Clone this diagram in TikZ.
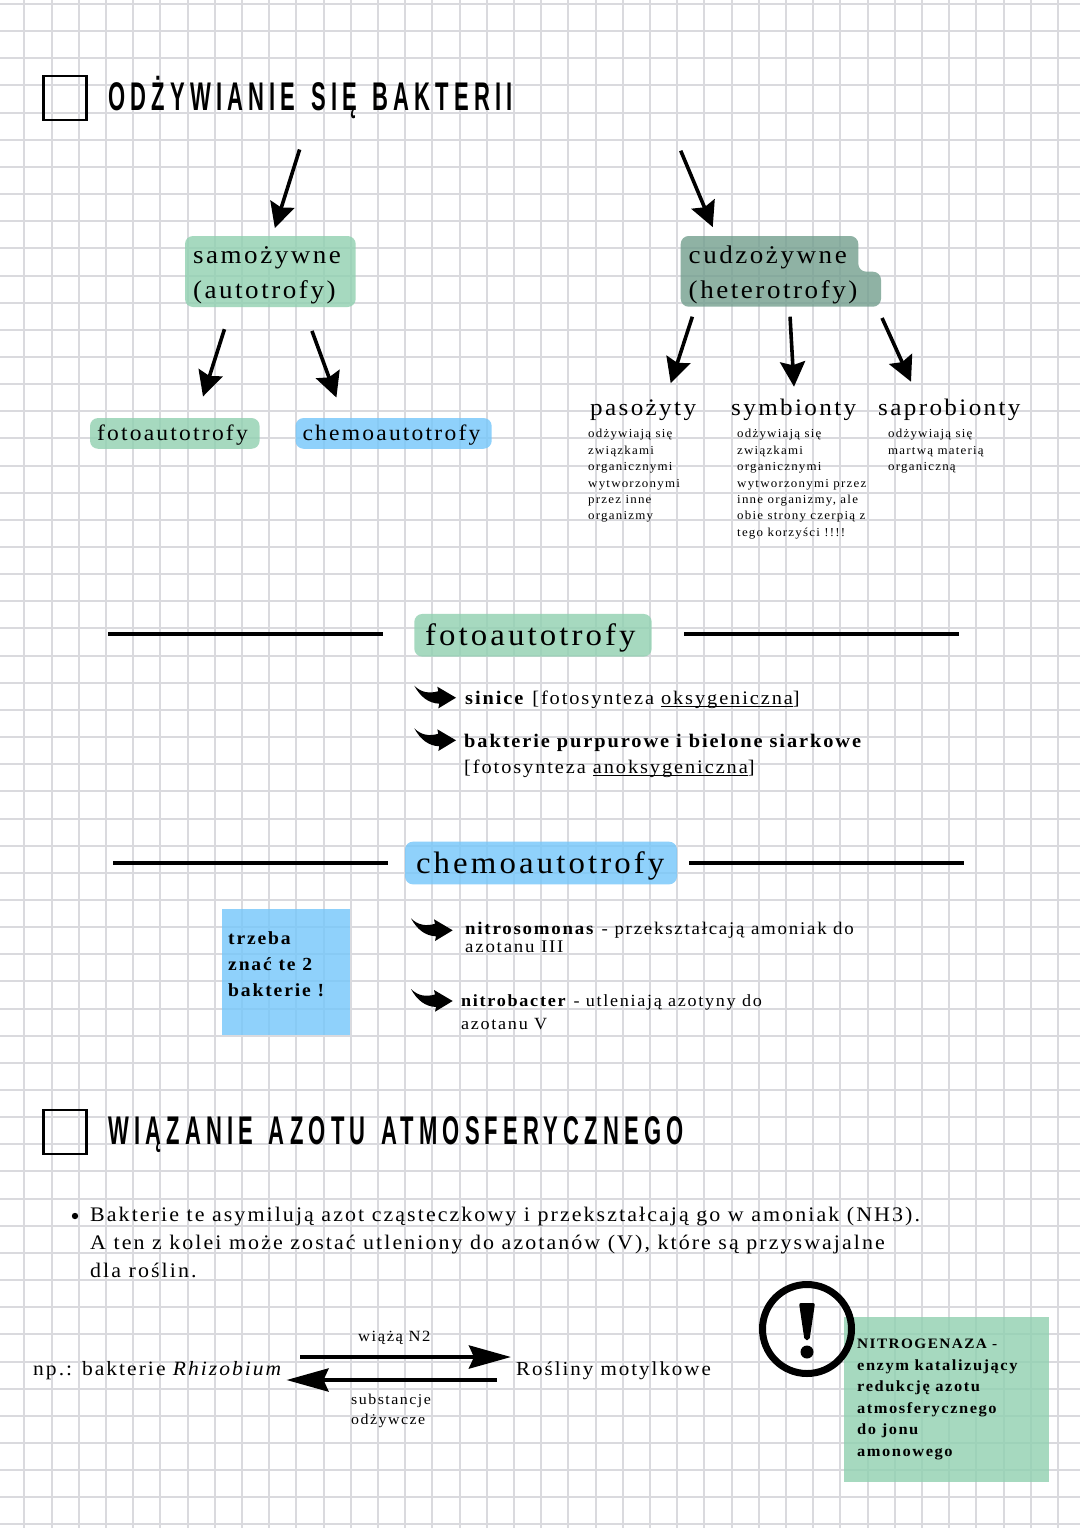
\documentclass[tikz,border=0pt]{standalone}
\usepackage{fontspec}
\usetikzlibrary{arrows.meta}
\newfontfamily\bodyfont[LetterSpace=10,FakeStretch=1.06]{Liberation Serif}
\newfontfamily\titlefont[LetterSpace=13,WordSpace=1.38,FakeStretch=0.55]{Liberation Sans}
\newcommand{\undr}[1]{\setbox0\hbox{#1}\rlap{\rule[-2.6pt]{\wd0}{0.9pt}}\box0}
\definecolor{boxgreen}{HTML}{90D0B0}
\definecolor{boxblue}{HTML}{74C6FA}
\definecolor{boxdark}{HTML}{739F8E}
\definecolor{gridgray}{HTML}{DADADE}
\tikzset{
  gridline/.style={gridgray,line width=2pt},
  rulerline/.style={line width=3.6pt},
  tickbox/.style={line width=2.4pt},
  slimarrow/.style={line width=3.6pt,-{Stealth[length=25pt,width=25pt,inset=3.5pt]}},
  widearrow/.style={line width=4.4pt,-{Stealth[length=42pt,width=23pt,inset=5pt]}},
  shade/.style={fill opacity=0.8,text opacity=1},
  pill/.style={shade,rounded corners=8pt,inner xsep=8pt,inner ysep=0pt,align=left},
  note/.style={shade,inner sep=0pt},
  label/.style={inner sep=0pt,anchor=base west},
  block/.style={inner sep=0pt,anchor=north west,align=left},
  title/.style={label,font=\titlefont\bfseries\fontsize{40}{40}\selectfont},
  medium/.style={font=\bodyfont\fontsize{25.5}{35}\selectfont,text height=18pt,text depth=35pt},
  heading/.style={label,font=\bodyfont\fontsize{23.7}{28}\selectfont},
  header/.style={font=\bodyfont\fontsize{31}{36}\selectfont,text height=21pt,text depth=0pt},
  lowpill/.style={pill,inner xsep=7pt,minimum height=30.7pt,font=\bodyfont\fontsize{22.2}{24}\selectfont,text height=14pt,text depth=0pt},
  small/.style={font=\bodyfont\fontsize{12.2}{16.45}\selectfont},
  hook/.pic={\fill (0,0) .. controls (7,7) and (15,8) .. (24,5.5) -- (23,1) -- (41.7,12) -- (24,22.7) -- (25,18) .. controls (14,17.5) and (6,11) .. (0,0) -- cycle;}
}
\begin{document}
\begin{tikzpicture}[x=1pt,y=-1pt]
\path[use as bounding box] (0,0) rectangle (1080,1528);
\fill[white] (0,0) rectangle (1080,1528);
\foreach \i in {0,...,38} \draw[gridline] ({24.3+27.2*\i},0) -- ({24.3+27.2*\i},1528);
\foreach \i in {0,...,56} \draw[gridline] (0,{4+27.15*\i}) -- (1080,{4+27.15*\i});

\draw[tickbox] (43.5,76) rectangle (86.5,120);
\node[title] (nutrition) at (108,110) {ODŻYWIANIE SIĘ BAKTERII};
\coordinate (autostart) at (299.6,149.5);
\coordinate (heterostart) at (680.7,150.7);

\node[pill,medium,fill=boxgreen,text width=154.7pt,minimum height=71pt] (auto) at (270.35,271.5) {samożywne\\(autotrofy)};
\node[lowpill,fill=boxgreen,text width=155.6pt] (foto) at (174.8,433.4) {fotoautotrofy};
\node[lowpill,fill=boxblue,text width=182.2pt] (chemo) at (393.6,433.4) {chemoautotrofy};
\draw[slimarrow] (autostart) -- ([shift={(4.5,-7.7)}]auto.north);
\draw[slimarrow] ([shift={(-45.9,22)}]auto.south) -- ([shift={(28.2,-21.3)}]foto.north);
\draw[slimarrow] ([shift={(41.6,23.7)}]auto.south) -- ([shift={(-57.2,-20.3)}]chemo.north);

\fill[boxdark,fill opacity=0.8,rounded corners=8pt] (680.7,236) -- (858.3,236) -- (858.3,271.7) -- (881,271.7) -- (881,306.7) -- (680.7,306.7) -- cycle;
\node[inner xsep=8pt,inner ysep=0pt,align=left,medium,text width=184.3pt,minimum height=71pt] (hetero) at (780.85,271.5) {cudzożywne\\(heterotrofy)};
\node[heading] (parasites) at (590,415) {pasożyty};
\node[heading] (symbionts) at (731,415) {symbionty};
\node[heading] (saprobes) at (878,415) {saprobionty};
\draw[slimarrow] (heterostart) -- ([shift={(-68.1,-8.7)}]hetero.north);
\draw[slimarrow] ([shift={(-88.5,9.5)}]hetero.south) -- ([shift={(80.7,-31.7)}]parasites.base west);
\draw[slimarrow] ([shift={(9.2,9.5)}]hetero.south) -- ([shift={(63,-28.3)}]symbionts.base west);
\draw[slimarrow] ([shift={(101.2,10.8)}]hetero.south) -- ([shift={(33,-33.3)}]saprobes.base west);
\node[block,small] (parasitetext) at (588,429) {odżywiają się\\związkami\\organicznymi\\wytworzonymi\\przez inne\\organizmy};
\node[block,small] (symbiontext) at (737,429) {odżywiają się\\związkami\\organicznymi\\wytworzonymi przez\\inne organizmy, ale\\obie strony czerpią z\\tego korzyści !!!!};
\node[block,small] (saprobetext) at (888,429) {odżywiają się\\martwą materią\\organiczną};

\draw[rulerline] (108,634) -- (383,634);
\draw[rulerline] (684,634) -- (959,634);
\node[pill,header,fill=boxgreen,inner xsep=10.7pt,text width=216pt,minimum height=42.7pt] (fotohead) at (533,635.3) {fotoautotrofy};
\pic at (414.3,685.7) {hook};
\pic at (414.3,728.3) {hook};
\node[label,font=\bodyfont\fontsize{19.2}{26}\selectfont] (cyano) at (465,704) {\textbf{sinice} [fotosynteza \undr{oksygeniczna}]};
\node[block,font=\bodyfont\fontsize{19.2}{26}\selectfont] (sulfur) at (464,733.5) {\textbf{bakterie purpurowe i bielone siarkowe}\\{}[fotosynteza \undr{anoksygeniczna}]};

\draw[rulerline] (113,863) -- (388,863);
\draw[rulerline] (689,863) -- (964,863);
\node[pill,header,fill=boxblue,inner xsep=11pt,text width=250pt,minimum height=42.7pt] (chemohead) at (541,863) {chemoautotrofy};
\node[note,fill=boxblue,minimum width=128pt,minimum height=126pt] (reminder) at (286,972) {};
\node[block,font=\bodyfont\bfseries\fontsize{18.5}{26}\selectfont] (remindertext) at (228,931) {trzeba\\znać te 2\\bakterie !};
\pic at (411,918.3) {hook};
\pic at (411,989) {hook};
\node[block,font=\bodyfont\fontsize{17.8}{17.5}\selectfont] (nitroso) at (465,922) {\textbf{nitrosomonas} - przekształcają amoniak do\\azotanu III};
\node[block,font=\bodyfont\fontsize{17.1}{23}\selectfont] (nitro) at (461,994) {\textbf{nitrobacter} - utleniają azotyny do\\azotanu V};

\draw[tickbox] (43.5,1110) rectangle (86.5,1154);
\node[title] (fixation) at (108,1144) {WIĄZANIE AZOTU ATMOSFERYCZNEGO};
\fill (75,1216) circle (3.2);
\node[block,font=\bodyfont\fontsize{20.7}{28}\selectfont] (para) at (90,1207) {Bakterie te asymilują azot cząsteczkowy i przekształcają go w amoniak (NH3).\\A ten z kolei może zostać utleniony do azotanów (V), które są przyswajalne\\dla roślin.};

\node[label,font=\bodyfont\fontsize{20.3}{24}\selectfont] (rhizo) at (33,1375) {np.: bakterie \textit{Rhizobium}};
\node[label,font=\bodyfont\fontsize{19.8}{24}\selectfont] (legumes) at (516,1375) {Rośliny motylkowe};
\draw[widearrow] ([shift={(17,-18)}]rhizo.base east) -- ([shift={(-5,-18)}]legumes.base west);
\draw[widearrow] ([shift={(-19,5)}]legumes.base west) -- ([shift={(3,5)}]rhizo.base east);
\node[label,font=\bodyfont\fontsize{15.6}{20}\selectfont] (fixes) at (358,1341) {wiążą N2};
\node[block,font=\bodyfont\fontsize{15}{20}\selectfont] (nutrients) at (351,1394) {substancje\\odżywcze};

\node[note,fill=boxgreen,minimum width=205pt,minimum height=165pt] (enzyme) at (946.5,1399.5) {};
\node[block,font=\bodyfont\bfseries\fontsize{15.5}{21.5}\selectfont] (enzymetext) at (857,1339) {{\fontsize{14.4}{21.5}\selectfont NITROGENAZA -}\\enzym katalizujący\\redukcję azotu\\atmosferycznego\\do jonu\\amonowego};
\draw[line width=7pt] (807,1329) circle (44.5);
\fill[rounded corners=2pt] (799,1303) -- (815,1303) -- (809.5,1340) -- (804.5,1340) -- cycle;
\fill (807,1352) circle (6.5);
\end{tikzpicture}
\end{document}
